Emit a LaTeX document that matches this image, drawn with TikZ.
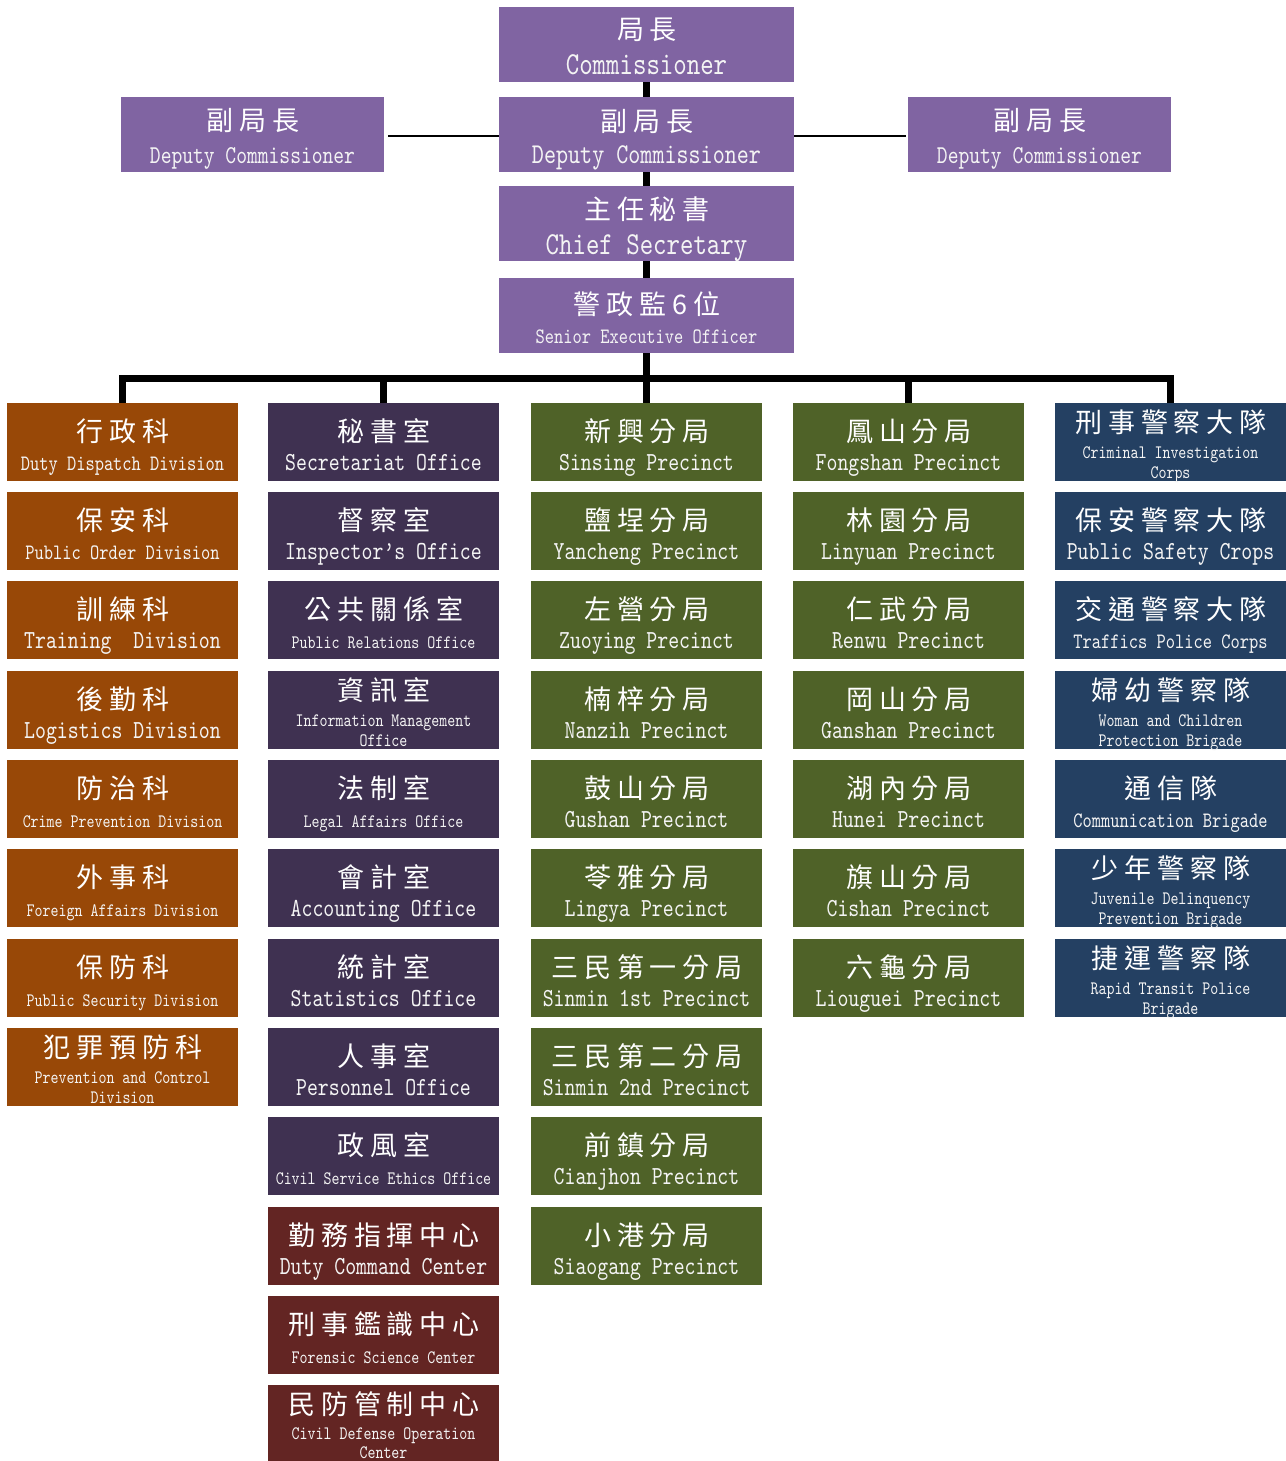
\documentclass[tikz,border=0pt]{standalone}
\usepackage{fontspec}
\usetikzlibrary{calc}
\newfontfamily\zhfont{Noto Sans CJK TC}[LetterSpace=22]
\newfontfamily\enfont{lmmono10-regular.otf}[FakeStretch=0.8]
\definecolor{lav}{HTML}{8064A2}
\definecolor{orng}{HTML}{984807}
\definecolor{dpur}{HTML}{3F3151}
\definecolor{olive}{HTML}{4F6228}
\definecolor{navy}{HTML}{244062}
\definecolor{maroon}{HTML}{632523}
\definecolor{txt}{HTML}{F4F4F4}
\tikzset{
 cell/.style={rectangle, inner sep=0pt, outer sep=0pt, minimum width=231pt, minimum height=78pt, anchor=north west, draw=none},
 topbox/.style={cell, minimum width=295pt, minimum height=75pt, fill=lav},
 sidebox/.style={cell, minimum width=263pt, minimum height=75pt, fill=lav},
 zh/.style={inner sep=0pt, text=white, xshift=0.5pt, font=\zhfont\fontsize{27}{30}\selectfont},
 enbase/.style={inner sep=0pt, anchor=base, text=txt},
 enL/.style={enbase, font=\enfont\fontsize{26}{28}\selectfont},
 enM/.style={enbase, font=\enfont\fontsize{22}{24}\selectfont},
 enS/.style={enbase, font=\enfont\fontsize{19}{21}\selectfont},
 enT/.style={enbase, font=\enfont\fontsize{32}{34}\selectfont},
 enD/.style={enbase, font=\enfont\fontsize{28.7}{30}\selectfont},
 enE/.style={enbase, font=\enfont\fontsize{25.7}{28}\selectfont},
 bus/.style={line width=7pt, line join=miter, black},
 thinline/.style={line width=2pt, black},
}
\newcommand\twocell[7]{%
 \node[cell,fill=#4] (#1) at (#2,-#3) {};
 \node[zh] (#1z) at ($(#1.north)+(0,-28)$) {#5};
 \node[#6] (#1e) at ($(#1.north)+(0,-67)$) {#7};}
\newcommand\threecell[8]{%
 \node[cell,fill=#4] (#1) at (#2,-#3) {};
 \node[zh] (#1z) at ($(#1.north)+(0,-19)$) {#5};
 \node[#6] (#1e) at ($(#1.north)+(0,-55)$) {#7};
 \node[#6] (#1f) at ($(#1.north)+(0,-75.5)$) {#8};}
\begin{document}
\begin{tikzpicture}[x=1pt,y=1pt]
\useasboundingbox (0,0) rectangle (1285,-1461);
\fill[white] (0,0) rectangle (1285,-1461);
% top hierarchy
\node[topbox] (com) at (499,-7) {};
\node[zh] (comz) at ($(com.north)+(0,-22.5)$) {局長};
\node[enT] (come) at ($(com.north)+(0,-68)$) {Commissioner};
\node[topbox] (dep) at (499,-97) {};
\node[zh] (depz) at ($(dep.north)+(0,-25)$) {副局長};
\node[enD] (depe) at ($(dep.north)+(0,-66)$) {Deputy Commissioner};
\node[sidebox] (depl) at (121,-97) {};
\node[zh] (deplz) at ($(depl.north)+(0,-24)$) {副局長};
\node[enE] (deple) at ($(depl.north)+(0,-66)$) {Deputy Commissioner};
\node[sidebox] (depr) at (908,-97) {};
\node[zh] (deprz) at ($(depr.north)+(0,-24)$) {副局長};
\node[enE] (depre) at ($(depr.north)+(0,-66)$) {Deputy Commissioner};
\node[topbox] (chf) at (499,-186) {};
\node[zh] (chfz) at ($(chf.north)+(0,-23)$) {主任秘書};
\node[enT] (chfe) at ($(chf.north)+(0,-68)$) {Chief Secretary};
\node[topbox] (sen) at (499,-278) {};
\node[zh] (senz) at ($(sen.north)+(0,-26)$) {警政監6位};
\node[enM] (sene) at ($(sen.north)+(0,-65)$) {Senior Executive Officer};
% column 1
\twocell{a1}{7}{403}{orng}{行政科}{enM}{Duty Dispatch Division}
\twocell{a2}{7}{492}{orng}{保安科}{enM}{Public Order Division}
\twocell{a3}{7}{581}{orng}{訓練科}{enL}{Training\ \ Division}
\twocell{a4}{7}{671}{orng}{後勤科}{enL}{Logistics Division}
\twocell{a5}{7}{760}{orng}{防治科}{enS}{Crime Prevention Division}
\twocell{a6}{7}{849}{orng}{外事科}{enS}{Foreign Affairs Division}
\twocell{a7}{7}{939}{orng}{保防科}{enS}{Public Security Division}
\threecell{a8}{7}{1028}{orng}{犯罪預防科}{enS}{Prevention and Control}{Division}
% column 2
\twocell{b1}{268}{403}{dpur}{秘書室}{enL}{Secretariat Office}
\twocell{b2}{268}{492}{dpur}{督察室}{enL}{Inspector’s Office}
\twocell{b3}{268}{581}{dpur}{公共關係室}{enS}{Public Relations Office}
\threecell{b4}{268}{671}{dpur}{資訊室}{enS}{Information Management}{Office}
\twocell{b5}{268}{760}{dpur}{法制室}{enS}{Legal Affairs Office}
\twocell{b6}{268}{849}{dpur}{會計室}{enL}{Accounting Office}
\twocell{b7}{268}{939}{dpur}{統計室}{enL}{Statistics Office}
\twocell{b8}{268}{1028}{dpur}{人事室}{enL}{Personnel Office}
\twocell{b9}{268}{1117}{dpur}{政風室}{enS}{Civil Service Ethics Office}
\twocell{b10}{268}{1207}{maroon}{勤務指揮中心}{enL}{Duty Command Center}
\twocell{b11}{268}{1296}{maroon}{刑事鑑識中心}{enS}{Forensic Science Center}
\node[cell,fill=maroon] (b12) at (268,-1385) {};
\node[zh] (b12z) at ($(b12.north)+(0,-19)$) {民防管制中心};
\node[enS] (b12e) at ($(b12.north)+(0,-54)$) {Civil Defense Operation};
\node[enS] (b12f) at ($(b12.north)+(0,-73.5)$) {Center};
% column 3
\twocell{c1}{531}{403}{olive}{新興分局}{enL}{Sinsing Precinct}
\twocell{c2}{531}{492}{olive}{鹽埕分局}{enL}{Yancheng Precinct}
\twocell{c3}{531}{581}{olive}{左營分局}{enL}{Zuoying Precinct}
\twocell{c4}{531}{671}{olive}{楠梓分局}{enL}{Nanzih Precinct}
\twocell{c5}{531}{760}{olive}{鼓山分局}{enL}{Gushan Precinct}
\twocell{c6}{531}{849}{olive}{苓雅分局}{enL}{Lingya Precinct}
\twocell{c7}{531}{939}{olive}{三民第一分局}{enL}{Sinmin 1st Precinct}
\twocell{c8}{531}{1028}{olive}{三民第二分局}{enL}{Sinmin 2nd Precinct}
\twocell{c9}{531}{1117}{olive}{前鎮分局}{enL}{Cianjhon Precinct}
\twocell{c10}{531}{1207}{olive}{小港分局}{enL}{Siaogang Precinct}
% column 4
\twocell{d1}{793}{403}{olive}{鳳山分局}{enL}{Fongshan Precinct}
\twocell{d2}{793}{492}{olive}{林園分局}{enL}{Linyuan Precinct}
\twocell{d3}{793}{581}{olive}{仁武分局}{enL}{Renwu Precinct}
\twocell{d4}{793}{671}{olive}{岡山分局}{enL}{Ganshan Precinct}
\twocell{d5}{793}{760}{olive}{湖內分局}{enL}{Hunei Precinct}
\twocell{d6}{793}{849}{olive}{旗山分局}{enL}{Cishan Precinct}
\twocell{d7}{793}{939}{olive}{六龜分局}{enL}{Liouguei Precinct}
% column 5
\threecell{e1}{1055}{403}{navy}{刑事警察大隊}{enS}{Criminal Investigation}{Corps}
\twocell{e2}{1055}{492}{navy}{保安警察大隊}{enL}{Public Safety Crops}
\twocell{e3}{1055}{581}{navy}{交通警察大隊}{enM}{Traffics Police Corps}
\threecell{e4}{1055}{671}{navy}{婦幼警察隊}{enS}{Woman and Children}{Protection Brigade}
\twocell{e5}{1055}{760}{navy}{通信隊}{enM}{Communication Brigade}
\threecell{e6}{1055}{849}{navy}{少年警察隊}{enS}{Juvenile Delinquency}{Prevention Brigade}
\threecell{e7}{1055}{939}{navy}{捷運警察隊}{enS}{Rapid Transit Police}{Brigade}
% connectors
\draw[bus] (com.south) -- (dep.north);
\draw[bus] (dep.south) -- (chf.north);
\draw[bus] (chf.south) -- (sen.north);
\draw[bus] (sen.south) -- (c1.north);
\draw[bus] (a1.north) -- ++(0,25) -| (e1.north);
\draw[bus] (b1.north) -- ++(0,25);
\draw[bus] (d1.north) -- ++(0,25);
\draw[thinline] ([xshift=4pt,yshift=-2pt]depl.east) -- ([yshift=-2pt]dep.west);
\draw[thinline] ([yshift=-2pt]dep.east) -- ([xshift=-2pt,yshift=-2pt]depr.west);
\end{tikzpicture}
\end{document}
